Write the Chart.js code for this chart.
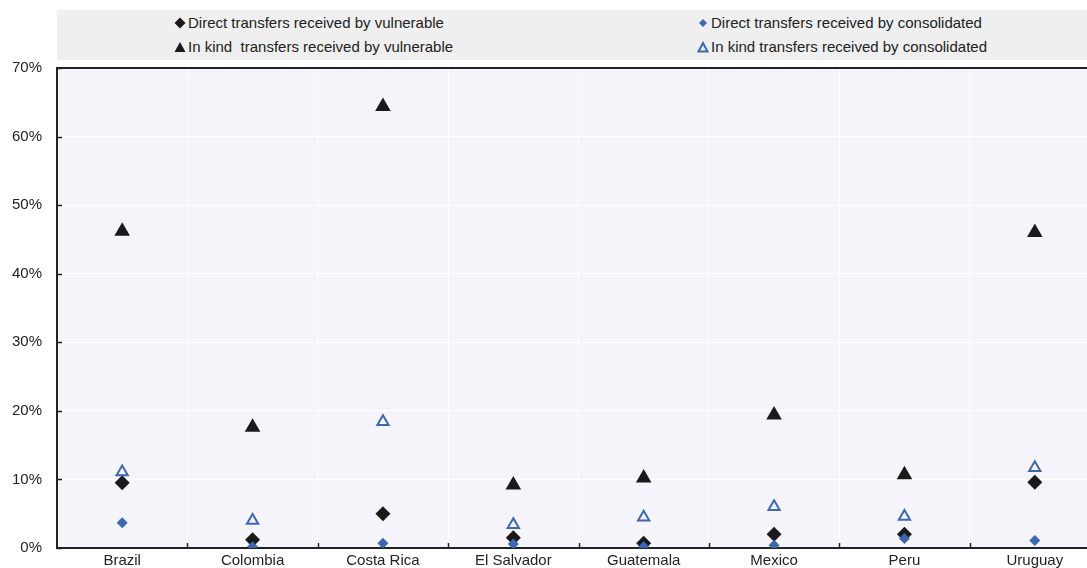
<!DOCTYPE html>
<html><head><meta charset="utf-8">
<script src="https://cdn.jsdelivr.net/npm/chart.js@4"></script>
<style>
html,body{margin:0;padding:0;background:#fff;overflow:hidden;}
#wrap{position:relative;width:1087px;height:568px;overflow:hidden;font-family:"Liberation Sans",Arial,sans-serif;}
#c{position:absolute;left:0;top:0;}
#legend{position:absolute;left:57px;top:10px;width:1030px;height:50px;background:#eeefee;}
.li{position:absolute;font-size:15px;color:#222;line-height:16px;white-space:pre;display:flex;align-items:center;}
.li svg{margin-right:2px;}
</style></head>
<body><div id="wrap">
<canvas id="c" width="1100" height="568"></canvas>
<div id="legend">
 <div class="li" style="left:117px;top:5px"><svg width="12" height="12" viewBox="0 0 12 12"><path d="M6 0.5 L11.5 6 L6 11.5 L0.5 6Z" fill="#1a1a1a"/></svg>Direct transfers received by vulnerable</div>
 <div class="li" style="left:117px;top:29px"><svg width="12" height="12" viewBox="0 0 12 12"><path d="M6 1 L11.5 11 L0.5 11Z" fill="#1a1a1a"/></svg>In kind  transfers received by vulnerable</div>
 <div class="li" style="left:640px;top:5px"><svg width="12" height="12" viewBox="0 0 12 12"><path d="M6 2 L10 6 L6 10 L2 6Z" fill="#3d67b1"/></svg>Direct transfers received by consolidated</div>
 <div class="li" style="left:640px;top:29px"><svg width="12" height="12" viewBox="0 0 12 12"><path d="M6 2 L10.5 10.5 L1.5 10.5Z" fill="none" stroke="#3d67b1" stroke-width="2"/></svg>In kind transfers received by consolidated</div>
</div>
</div>
<script>
const categories = ["Brazil","Colombia","Costa Rica","El Salvador","Guatemala","Mexico","Peru","Uruguay"];
const directVulnerable = [9.5, 1.2, 5.0, 1.5, 0.7, 2.0, 2.0, 9.6];
const inKindVulnerable = [46.2, 17.6, 64.4, 9.2, 10.2, 19.4, 10.7, 46.0];
const directConsolidated = [3.7, 0.2, 0.7, 0.6, 0.2, 0.4, 1.4, 1.1];
const inKindConsolidated = [11.1, 4.0, 18.4, 3.4, 4.5, 6.0, 4.6, 11.7];
const yTicks = [0,10,20,30,40,50,60,70];

const BLUE = "#3d67b1";
const DARK = "#1a1a1a";
const FONT = "'Liberation Sans', Arial, sans-serif";

const framePlugin = {
  id: 'frame',
  beforeDraw(chart){
    const {ctx, chartArea:a} = chart;
    ctx.save();
    ctx.fillStyle = '#f4f4fa';
    ctx.fillRect(a.left, a.top, a.right-a.left, a.bottom-a.top);
    ctx.restore();
  },
  beforeDatasetsDraw(chart){
    const {ctx, chartArea:a, scales} = chart;
    ctx.save();
    ctx.strokeStyle = '#222';
    ctx.lineWidth = 2;
    ctx.beginPath();
    ctx.moveTo(a.left-1, a.top); ctx.lineTo(a.right, a.top);
    ctx.stroke();
    ctx.lineWidth = 1.5;
    ctx.beginPath();
    yTicks.forEach(v=>{
      const y = Math.round(scales.y.getPixelForValue(v))+0.5;
      ctx.moveTo(a.left, y); ctx.lineTo(a.left+5, y);
    });
    for(let i=1;i<categories.length;i++){
      const x = Math.round((scales.x.getPixelForValue(i-1)+scales.x.getPixelForValue(i))/2)+0.5;
      ctx.moveTo(x, a.bottom); ctx.lineTo(x, a.bottom-5);
    }
    ctx.stroke();
    ctx.restore();
  }
};

new Chart(document.getElementById('c'), {
  type: 'line',
  data: {
    labels: categories,
    datasets: [
      {label:'Direct transfers received by vulnerable', data: directVulnerable, showLine:false,
       pointStyle:'rectRot', pointRadius:7.5, pointBackgroundColor:DARK, pointBorderColor:DARK, pointBorderWidth:0, order:3},
      {label:'In kind  transfers received by vulnerable', data: inKindVulnerable, showLine:false,
       pointStyle:'triangle', pointRadius:9, pointBackgroundColor:DARK, pointBorderColor:DARK, pointBorderWidth:0, order:2},
      {label:'Direct transfers received by consolidated', data: directConsolidated, showLine:false,
       pointStyle:'rectRot', pointRadius:5.5, pointBackgroundColor:BLUE, pointBorderColor:BLUE, pointBorderWidth:0, order:1},
      {label:'In kind transfers received by consolidated', data: inKindConsolidated, showLine:false,
       pointStyle:'triangle', pointRadius:6.5, pointBackgroundColor:'rgba(0,0,0,0)', pointBorderColor:BLUE, pointBorderWidth:2, order:0}
    ]
  },
  options: {
    responsive:false, animation:false,
    layout:{autoPadding:false, padding:{top:68,left:0,right:0,bottom:0}},
    plugins:{legend:{display:false}, tooltip:{enabled:false}},
    scales:{
      x:{
        offset:true,
        grid:{color:'#ffffff', lineWidth:1, offset:true, drawTicks:false},
        border:{color:'#222', width:2},
        ticks:{font:{family:FONT,size:15}, color:'#222', padding:4, maxRotation:0, autoSkip:false},
        afterFit(s){ s.height = 20; s.paddingLeft = 0; s.paddingRight = 0; }
      },
      y:{
        min:0, max:70,
        grid:{color:'#ffffff', lineWidth:1, drawTicks:false},
        border:{color:'#222', width:2},
        ticks:{stepSize:10, font:{family:FONT,size:15}, color:'#222', padding:15, callback:v=>v+'%'},
        afterFit(s){ s.width = 57; s.paddingTop = 0; s.paddingBottom = 0; }
      }
    }
  },
  plugins:[framePlugin]
});
</script>
</body></html>
